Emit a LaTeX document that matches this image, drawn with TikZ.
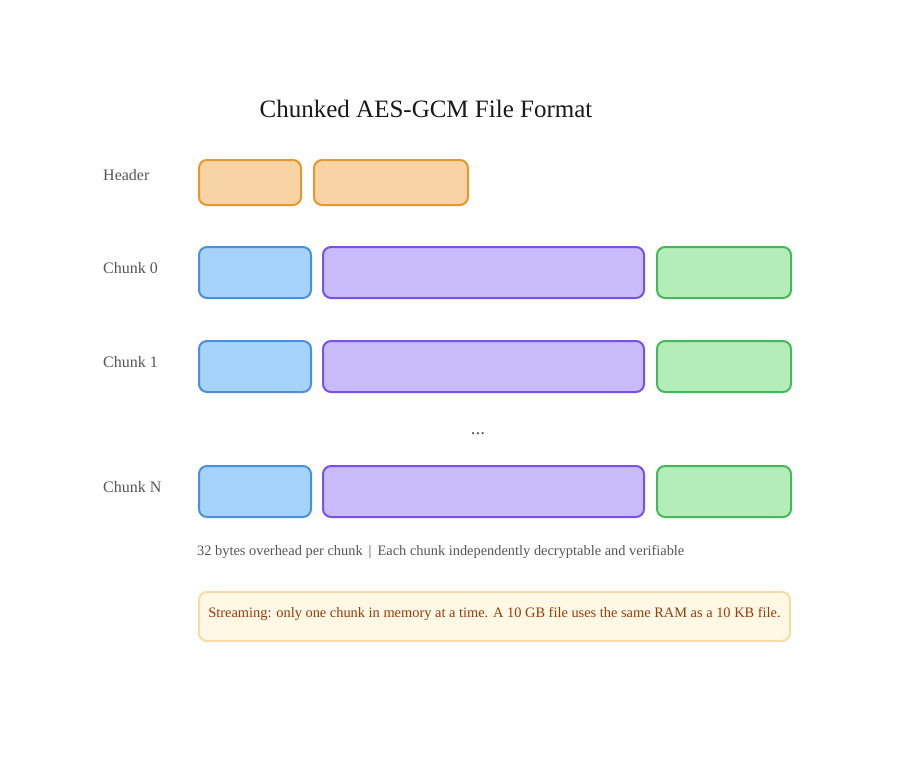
\documentclass[tikz,border=0pt]{standalone}
\usepackage{fontspec}
\setmainfont{Liberation Serif}
\definecolor{hdrfill}{HTML}{F8D4A4}
\definecolor{hdrline}{HTML}{E8962E}
\definecolor{nfill}{HTML}{A5D3FA}
\definecolor{nline}{HTML}{4A8FE0}
\definecolor{cfill}{HTML}{C9BAFC}
\definecolor{cline}{HTML}{7950E8}
\definecolor{tfill}{HTML}{B5EDB8}
\definecolor{tline}{HTML}{45B85A}
\definecolor{notefill}{HTML}{FEF8E4}
\definecolor{noteline}{HTML}{F6DCA6}
\definecolor{notetext}{HTML}{9A3B0C}
\definecolor{greytext}{HTML}{555555}
\tikzset{
  blk/.style={draw, line width=2pt, rounded corners=8pt, inner sep=0pt, anchor=north west},
  hdr/.style={blk, fill=hdrfill, draw=hdrline},
  nonce/.style={blk, fill=nfill, draw=nline},
  ctext/.style={blk, fill=cfill, draw=cline},
  tagb/.style={blk, fill=tfill, draw=tline},
  rowlabel/.style={anchor=west, font=\fontsize{16}{18}\selectfont, text=greytext, inner sep=0pt},
}
\begin{document}
\begin{tikzpicture}[x=1pt,y=-1pt]
\useasboundingbox (0,0) rectangle (908,766);
\node[font=\fontsize{25}{28}\selectfont, text=black!90] (title) at (426,109) {Chunked AES-GCM File Format};

\node[rowlabel] (lh) at (103,175) {Header};
\node[hdr, minimum width=102pt, minimum height=45pt] (h1) at (198,159) {};
\node[hdr, minimum width=154pt, minimum height=45pt] (h2) at (313,159) {};

\node[rowlabel] (l0) at (103,268) {Chunk 0};
\node[nonce, minimum width=112pt, minimum height=51pt] (n0) at (198,246) {};
\node[ctext, minimum width=321pt, minimum height=51pt] (c0) at (322,246) {};
\node[tagb, minimum width=134pt, minimum height=51pt] (t0) at (656,246) {};

\node[rowlabel] (l1) at (103,362) {Chunk 1};
\node[nonce, minimum width=112pt, minimum height=51pt] (n1) at (198,340) {};
\node[ctext, minimum width=321pt, minimum height=51pt] (c1) at (322,340) {};
\node[tagb, minimum width=134pt, minimum height=51pt] (t1) at (656,340) {};

\node[font=\fontsize{19}{20}\selectfont, text=greytext] (dots) at (478,434) {...};

\node[rowlabel] (lN) at (103,487) {Chunk N};
\node[nonce, minimum width=112pt, minimum height=51pt] (nN) at (198,465) {};
\node[ctext, minimum width=321pt, minimum height=51pt] (cN) at (322,465) {};
\node[tagb, minimum width=134pt, minimum height=51pt] (tN) at (656,465) {};

\node[anchor=west, inner sep=0pt, font=\fontsize{14.4}{16}\selectfont, text=greytext] (ovh) at (197,552) {32 bytes overhead per chunk \,|\, Each chunk independently decryptable and verifiable};

\node[blk, fill=notefill, draw=noteline, minimum width=591pt, minimum height=49pt] (note) at (198,591) {};
\node[font=\fontsize{14.4}{16}\selectfont, text=notetext] (notetxt) at ([yshift=3pt]note.center) {Streaming: only one chunk in memory at a time. A 10 GB file uses the same RAM as a 10 KB file.};
\end{tikzpicture}
\end{document}
